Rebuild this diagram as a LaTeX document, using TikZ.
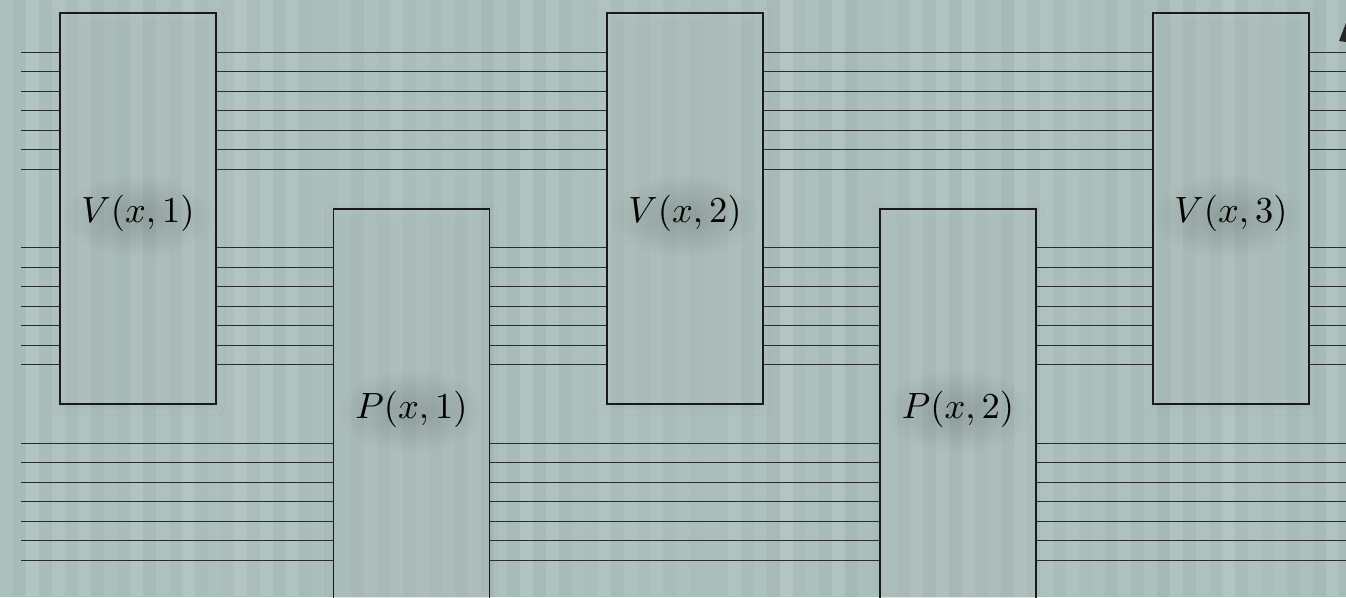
\documentclass[tikz,border=0pt]{standalone}
\usepackage{graphicx}
\usetikzlibrary{shadows.blur,fadings}
\definecolor{bglight}{RGB}{184,201,198}
\definecolor{bgdark}{RGB}{162,182,180}
\definecolor{wirec}{RGB}{40,44,44}
\newcommand{\biglabel}[1]{\scalebox{3.65}{$#1$}}
\tikzfading[name=softhalo, inner color=transparent!0, outer color=transparent!100]
\tikzset{
  blk/.style={draw=black!90, line width=1.4pt, fill=bglight, fill opacity=0.3,
    minimum width=156pt, minimum height=391pt, inner sep=0pt,
    blur shadow={shadow xshift=0pt, shadow yshift=-3pt, shadow blur radius=8pt, shadow opacity=15}},
  lbl/.style={inner sep=0pt, yshift=-5pt},
  wire/.style={draw=wirec, line width=0.9pt},
  halo/.style={fill=black, opacity=0.16, path fading=softhalo}
}
\begin{document}
\begin{tikzpicture}[x=1pt,y=-1pt]
\useasboundingbox (0,0) rectangle (1346,597);
\clip (0,0) rectangle (1346,597);
% background stripes
\pgfmathsetseed{11}
\fill[bglight!55!bgdark] (0,0) rectangle (1346,597);
\foreach \i in {0,...,103}{
  \pgfmathsetmacro\r{mod(\i,2)==0 ? 20+rnd*35 : 55+rnd*30}
  \fill[bgdark!\r!bglight] (\i*13,0) rectangle ++(13,597);
}
% row coordinates
\foreach \k/\y in {1/52,2/71.5,3/91,4/110.5,5/130,6/149.5,7/169}{
  \coordinate (t\k) at (21,\y);
}
\foreach \k/\y in {1/247.5,2/267,3/286.5,4/306,5/325.5,6/345,7/364.5}{
  \coordinate (m\k) at (21,\y);
}
\foreach \k/\y in {1/443,2/462.5,3/482,4/501.5,5/521,6/540.5,7/560}{
  \coordinate (b\k) at (21,\y);
}
\coordinate (R) at (1346,0);
% boxes
\node[blk] (V1) at (138,208.5) {};
\node[blk] (V2) at (685,208.5) {};
\node[blk] (V3) at (1231,208.5) {};
\node[blk] (P1) at (411.5,404.5) {};
\node[blk] (P2) at (958,404.5) {};
% text halos
\foreach \p in {(137,216),(684,216),(1228,216),(411,411),(957,411)}{
  \fill[halo] \p ellipse (75pt and 42pt);
}
% labels
\node[lbl] (V1t) at (V1.center) {\biglabel{V(x,1)}};
\node[lbl] (V2t) at (V2.center) {\biglabel{V(x,2)}};
\node[lbl] (V3t) at (V3.center) {\biglabel{V(x,3)}};
\node[lbl] (P1t) at (P1.center) {\biglabel{P(x,1)}};
\node[lbl] (P2t) at (P2.center) {\biglabel{P(x,2)}};
% wires
\foreach \k in {1,...,7}{
  \draw[wire] (t\k) -- (t\k -| V1.west);
  \draw[wire] (t\k -| V1.east) -- (t\k -| V2.west);
  \draw[wire] (t\k -| V2.east) -- (t\k -| V3.west);
  \draw[wire] (t\k -| V3.east) -- (t\k -| R);
  \draw[wire] (m\k) -- (m\k -| V1.west);
  \draw[wire] (m\k -| V1.east) -- (m\k -| P1.west);
  \draw[wire] (m\k -| P1.east) -- (m\k -| V2.west);
  \draw[wire] (m\k -| V2.east) -- (m\k -| P2.west);
  \draw[wire] (m\k -| P2.east) -- (m\k -| V3.west);
  \draw[wire] (m\k -| V3.east) -- (m\k -| R);
  \draw[wire] (b\k) -- (b\k -| P1.west);
  \draw[wire] (b\k -| P1.east) -- (b\k -| P2.west);
  \draw[wire] (b\k -| P2.east) -- (b\k -| R);
}
% clipped mark at top right
\fill[black!85] (1339,41) -- (1346,23) -- (1346,42) -- cycle;
\end{tikzpicture}
\end{document}
